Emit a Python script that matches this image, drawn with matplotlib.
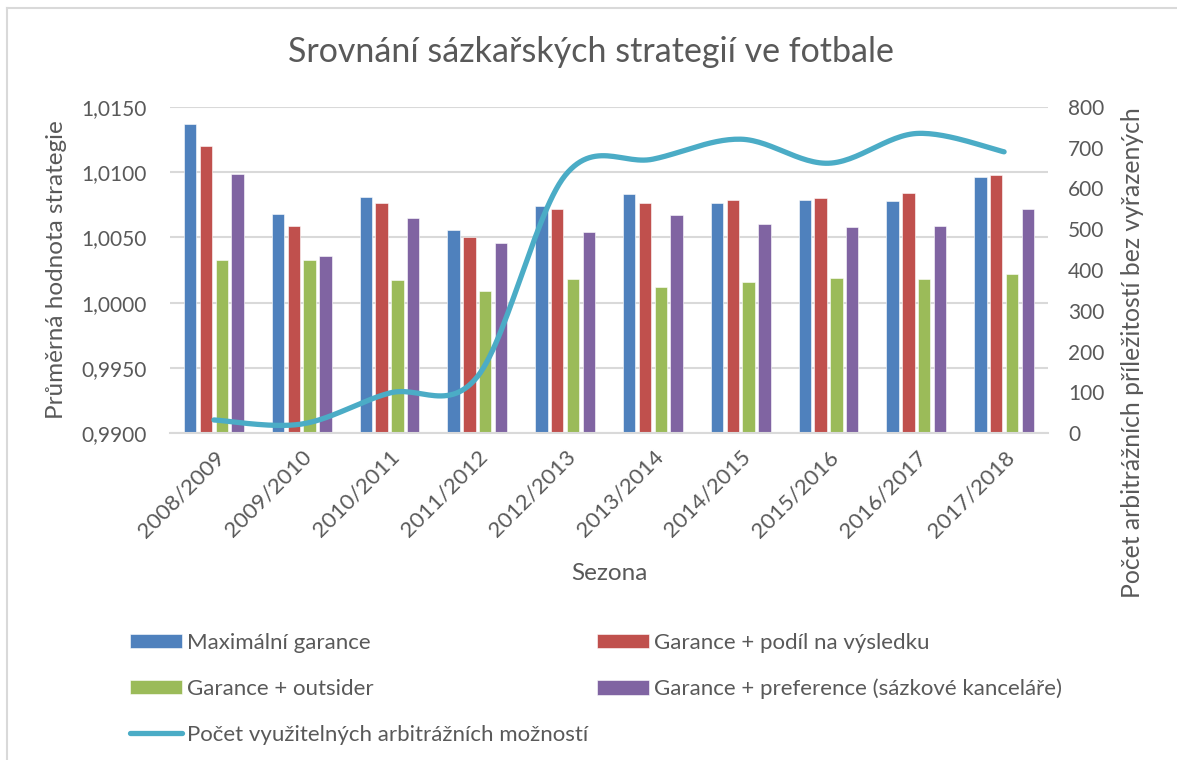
import numpy as np
import matplotlib
matplotlib.use("Agg")
import matplotlib.pyplot as plt
from matplotlib.lines import Line2D
from matplotlib.ticker import FuncFormatter, MultipleLocator

plt.rcParams['font.family'] = ['Lato', 'DejaVu Sans']

# data
seasons = ['2008/2009', '2009/2010', '2010/2011', '2011/2012', '2012/2013',
           '2013/2014', '2014/2015', '2015/2016', '2016/2017', '2017/2018']
max_garance = [1.0137, 1.0068, 1.0081, 1.0056, 1.0074, 1.0083, 1.0076, 1.0079, 1.0078, 1.0096]
garance_podil = [1.0120, 1.0059, 1.0076, 1.0050, 1.0072, 1.0076, 1.0079, 1.0080, 1.0084, 1.0098]
garance_outsider = [1.0033, 1.0033, 1.0017, 1.0009, 1.0018, 1.0012, 1.0016, 1.0019, 1.0018, 1.0022]
garance_preference = [1.0099, 1.0036, 1.0065, 1.0046, 1.0054, 1.0067, 1.0060, 1.0058, 1.0059, 1.0072]
pocet_moznosti = [32, 22, 98, 138, 632, 672, 721, 662, 735, 690]

labels = ['Maximální garance', 'Garance + podíl na výsledku',
          'Garance + outsider', 'Garance + preference (sázkové kanceláře)']
line_label = 'Počet využitelných arbitrážních možností'
colors = ['#4F81BD', '#C0504D', '#9BBB59', '#8064A2']
line_color = '#4BACC6'
text_color = '#595959'
grid_color = '#D9D9D9'


def smooth(xs, ys, n=30):
    # Excel style smoothed line: Catmull-Rom bezier through the points
    xs = np.asarray(xs, float)
    ys = np.asarray(ys, float)
    px = np.concatenate([[xs[0]], xs, [xs[-1]]])
    py = np.concatenate([[ys[0]], ys, [ys[-1]]])
    out_x, out_y = [], []
    t = np.linspace(0, 1, n)
    for i in range(1, len(px) - 2):
        p0 = np.array([px[i], py[i]])
        p3 = np.array([px[i + 1], py[i + 1]])
        c1 = p0 + (np.array([px[i + 1], py[i + 1]]) - np.array([px[i - 1], py[i - 1]])) / 6
        c2 = p3 - (np.array([px[i + 2], py[i + 2]]) - np.array([px[i], py[i]])) / 6
        b = ((1 - t) ** 3)[:, None] * p0 + (3 * (1 - t) ** 2 * t)[:, None] * c1 \
            + (3 * (1 - t) * t ** 2)[:, None] * c2 + (t ** 3)[:, None] * p3
        out_x.extend(b[:, 0])
        out_y.extend(b[:, 1])
    return out_x, out_y


fig = plt.figure(figsize=(11.77, 7.6), dpi=100)
ax = fig.add_axes([170 / 1177, 1 - 433 / 760, 878 / 1177, 326 / 760])
ax2 = ax.twinx()

x = np.arange(len(seasons))
series = [max_garance, garance_podil, garance_outsider, garance_preference]
pitch = 0.18
bars = []
for i, (vals, c) in enumerate(zip(series, colors)):
    b = ax.bar(x + (i - 1.5) * pitch, vals, width=0.14, color=c,
               edgecolor='white', linewidth=0.4, zorder=2, label=labels[i])
    bars.append(b)

ax.set_ylim(0.99, 1.015)
ax.set_xlim(-0.5, len(seasons) - 0.5)
ax.yaxis.set_major_locator(MultipleLocator(0.005))
ax.yaxis.set_major_formatter(FuncFormatter(lambda v, p: f'{v:.4f}'.replace('.', ',')))
ax.grid(axis='y', color=grid_color, linewidth=1.5, zorder=0)
ax.set_axisbelow(True)

sx, sy = smooth(x, pocet_moznosti)
ln, = ax2.plot(sx, sy, color=line_color, linewidth=3.8, solid_capstyle='round',
               zorder=3, label=line_label)
ax2.set_ylim(0, 800)
ax2.yaxis.set_major_locator(MultipleLocator(100))

for a in (ax, ax2):
    for s in a.spines.values():
        s.set_visible(False)
    a.tick_params(length=0, labelsize=15, colors=text_color)
ax.spines['bottom'].set_visible(True)
ax.spines['bottom'].set_color(grid_color)
ax.spines['bottom'].set_linewidth(1.5)
ax.tick_params(axis='y', pad=16.5)
ax2.tick_params(axis='y', pad=14.5)

ax.set_xticks(x)
ax.set_xticklabels(seasons, rotation=45, ha='right', va='top', rotation_mode='anchor')
ax.tick_params(axis='x', pad=10, labelsize=16)

ax.set_xlabel('Sezona', fontsize=17.5, color=text_color, labelpad=16)
fig.text(57 / 1177, 1 - 270 / 760, 'Průměrná hodnota strategie', rotation=90,
         ha='center', va='center', fontsize=17.5, color=text_color)
fig.text(1133 / 1177, 1 - 353 / 760, 'Počet arbitrážních příležitostí bez vyřazených',
         rotation=90, ha='center', va='center', fontsize=17.8, color=text_color)
fig.text(0.502, 1 - 52 / 760, 'Srovnání sázkařských strategií ve fotbale',
         ha='center', va='center', fontsize=24.5, color=text_color)

handles = [bars[0], bars[2], ln, bars[1], bars[3]]
leg_labels = [labels[0], labels[2], line_label, labels[1], labels[3]]
fig.legend(handles, leg_labels, ncol=2, loc='upper left',
           bbox_to_anchor=(110 / 1177, 1 - 613 / 760), frameon=False,
           fontsize=16, labelcolor=text_color, handlelength=2.34,
           handleheight=0.63, handletextpad=0.23, labelspacing=1.16,
           columnspacing=0.4)

# chart frame
fig.add_artist(Line2D([6.5 / 1177, 6.5 / 1177], [0, 1 - 8 / 760], color='#D9D9D9', linewidth=1.5))
fig.add_artist(Line2D([6.5 / 1177, 1], [1 - 8 / 760, 1 - 8 / 760], color='#D9D9D9', linewidth=1.5))

fig.savefig('out.png', dpi=100)
